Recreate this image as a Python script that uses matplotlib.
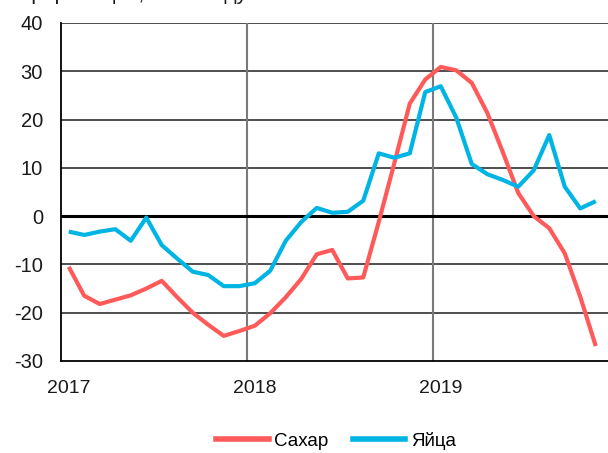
import matplotlib
matplotlib.use("Agg")
import matplotlib.pyplot as plt
from matplotlib.lines import Line2D

plt.rcParams['font.family'] = ['Liberation Sans Narrow', 'Liberation Sans', 'DejaVu Sans']

# Monthly data, Jan 2017 .. Nov 2019 (% y/y)
sugar = [-10.5, -16.5, -18.2, -17.3, -16.4, -15.0, -13.4, -16.8, -20.0, -22.5, -24.8, -23.8,
         -22.7, -20.1, -16.8, -13.0, -7.9, -7.0, -12.9, -12.7, -1.2, 10.9, 23.3, 28.3,
         30.9, 30.2, 27.6, 21.4, 13.3, 4.8, 0.0, -2.5, -7.7, -16.7, -26.9]
eggs = [-3.2, -3.9, -3.2, -2.7, -5.1, -0.3, -6.0, -8.8, -11.5, -12.2, -14.5, -14.5,
        -13.9, -11.3, -5.1, -1.2, 1.7, 0.7, 0.9, 3.2, 13.0, 12.1, 13.0, 25.7,
        26.9, 20.4, 10.8, 8.7, 7.5, 6.1, 9.5, 16.8, 6.1, 1.6, 3.1]
start_year = 2017
years = [2017, 2018, 2019]
series_names = ['Сахар', 'Яйца']
colors = ['#FF5A5A', '#00B4E4']

x = [start_year + (i + 0.5) / 12 for i in range(len(sugar))]

fig = plt.figure(figsize=(6.08, 4.53), dpi=100)
ax = fig.add_axes([61 / 608, 92 / 453, 1 - 61 / 608, 338 / 453])

ax.set_xlim(2017, 2017 + 547 / 186)
ax.set_ylim(-30, 40)

# horizontal grid
for v in range(-20, 41, 10):
    if v == 0:
        continue
    ax.axhline(v, color='#303030', lw=1.2, zorder=1)
ax.axhline(0, color='black', lw=2.2, zorder=2)
for yv in years[1:]:
    ax.axvline(yv, color='#7a7a7a', lw=1.5, zorder=1)

ax.plot(x, sugar, color=colors[0], lw=3, zorder=3, solid_capstyle='butt')
ax.plot(x, eggs, color=colors[1], lw=3, zorder=3, solid_capstyle='butt')

for s in ['top', 'right']:
    ax.spines[s].set_visible(False)
ax.spines['left'].set_color('black')
ax.spines['left'].set_linewidth(1.3)
ax.spines['bottom'].set_color('black')
ax.spines['bottom'].set_linewidth(1.3)

ax.set_yticks(range(-30, 41, 10))
ax.set_yticklabels([str(v) for v in range(-30, 41, 10)])
ax.set_xticks([yv + 0.5 / 12 for yv in years])
ax.set_xticklabels([str(yv) for yv in years])
ax.tick_params(axis='y', length=0, pad=13, labelsize=14.5, colors='#1a1a1a')
ax.tick_params(axis='x', length=0, pad=14, labelsize=14, colors='#1a1a1a')

handles = [Line2D([], [], color=c, lw=4) for c in colors]
fig.legend(handles, series_names, loc='center', bbox_to_anchor=(336 / 608, 1 - 441 / 453),
           ncol=2, frameon=False, fontsize=13.5, handlelength=2.8, handletextpad=0.3,
           columnspacing=1.3, borderpad=0.2)

fig.text(20 / 608, 1.0, 'прирост цен, в % к году', fontsize=15,
         va='baseline', ha='left', color='#1a1a1a')

fig.savefig('out.png', dpi=100)
